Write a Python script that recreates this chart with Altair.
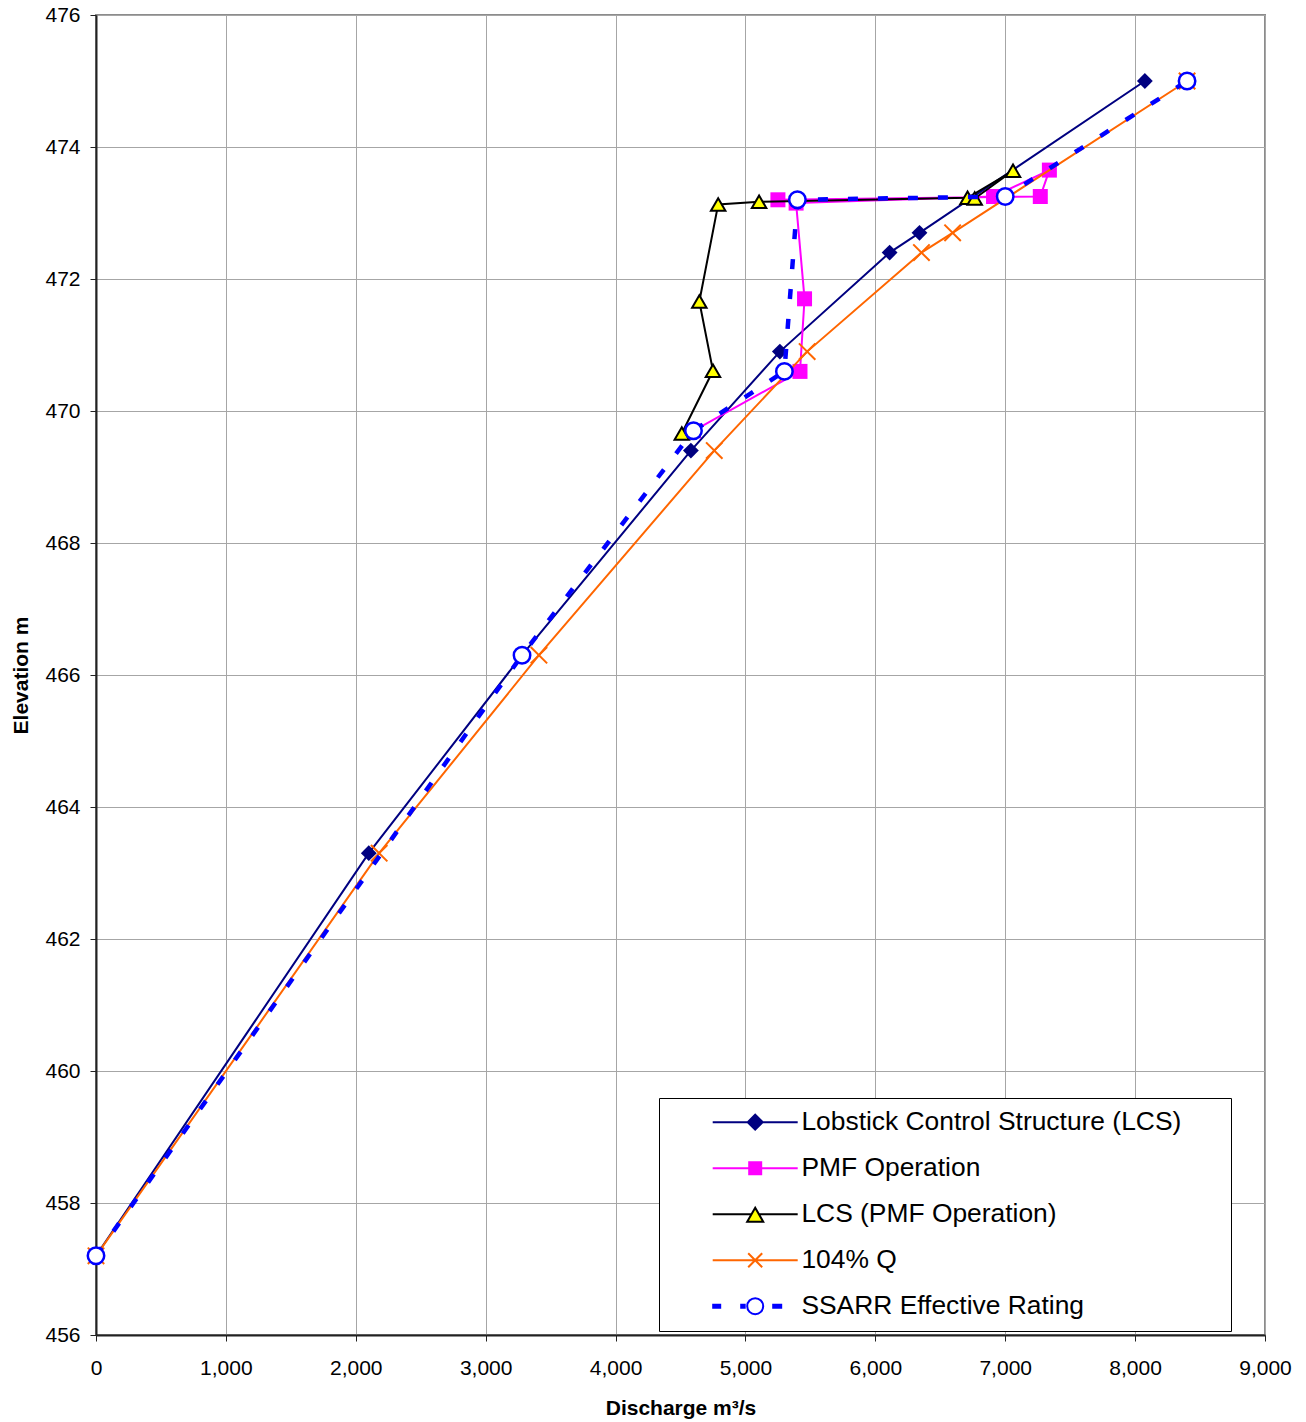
import altair as alt
import pandas as pd

# ---- data ----
series_names = [
    "Lobstick Control Structure (LCS)",
    "PMF Operation",
    "LCS (PMF Operation)",
    "104% Q",
    "SSARR Effective Rating",
]

lcs_q = [0, 2100, 3280, 4580, 5265, 6110, 6340, 8075]
lcs_el = [457.2, 463.3, 466.3, 469.4, 470.9, 472.4, 472.7, 475.0]

pmf_q = [4600, 5420, 5455, 5390, 6910, 7340, 7270, 5250]
pmf_el = [469.7, 470.6, 471.7, 473.15, 473.25, 473.65, 473.25, 473.2]

lcspmf_q = [4510, 4750, 4645, 4790, 5105, 6710, 7060, 6765]
lcspmf_el = [469.66, 470.61, 471.66, 473.13, 473.17, 473.23, 473.64, 473.22]

q104_q = [0, 2180, 3410, 4760, 5475, 6355, 6595, 8400]
q104_el = [457.2, 463.3, 466.3, 469.4, 470.9, 472.4, 472.7, 475.0]

ssarr_q = [0, 3280, 4600, 5300, 5400, 7000, 8400]
ssarr_el = [457.2, 466.3, 469.7, 470.6, 473.2, 473.25, 475.0]

x_ticks = list(range(0, 9001, 1000))
y_ticks = list(range(456, 477, 2))

FONT = "Liberation Sans"


def frame(q, el):
    return pd.DataFrame({"q": q, "el": el, "i": list(range(len(q)))})


X = alt.X(
    "q:Q",
    scale=alt.Scale(domain=[0, 9000], nice=False, zero=False),
    axis=alt.Axis(
        values=x_ticks, format=",.0f", title="Discharge m³/s",
        titleY=79, titleBaseline="alphabetic",
        labelPadding=16,
    ),
)
Y = alt.Y(
    "el:Q",
    scale=alt.Scale(domain=[456, 476], nice=False, zero=False),
    axis=alt.Axis(
        values=y_ticks, format=".0f", title="Elevation m", titleX=-75,
        titleBaseline="middle", titleAngle=-90, labelPadding=10,
    ),
)


def series_layers(df, line_kw, point_kw):
    base = alt.Chart(df)
    line = base.mark_line(**line_kw).encode(x=X, y=Y, order="i:Q")
    pts = base.mark_point(opacity=1, **point_kw).encode(x=X, y=Y)
    return [line, pts]


layers = []
layers += series_layers(
    frame(lcs_q, lcs_el),
    dict(color="#000080", strokeWidth=2),
    dict(shape="diamond", filled=True, color="#000080", size=250),
)
layers += series_layers(
    frame(pmf_q, pmf_el),
    dict(color="#FF00FF", strokeWidth=2),
    dict(shape="square", filled=True, color="#FF00FF", size=225),
)
layers += series_layers(
    frame(lcspmf_q, lcspmf_el),
    dict(color="#000000", strokeWidth=2),
    dict(shape="triangle-up", filled=True, fill="#FFFF00", stroke="#000000",
         strokeWidth=2, size=210),
)
layers += series_layers(
    frame(q104_q, q104_el),
    dict(color="#FF6600", strokeWidth=2),
    dict(shape="M-1,-1L1,1M-1,1L1,-1", filled=False, stroke="#FF6600",
         strokeWidth=2, size=270),
)
layers += series_layers(
    frame(ssarr_q, ssarr_el),
    dict(color="#0000FF", strokeWidth=4.5, strokeDash=[10, 20], strokeCap="butt"),
    dict(shape="circle", filled=True, fill="#FFFFFF", stroke="#0000FF",
         strokeWidth=2.5, size=270),
)

# ---- legend (line + marker symbols) ----
def dash(a, b):
    return "".join(f"M{a},{dy}H{b}" for dy in (-0.15, 0, 0.15))

legend_paths = [
    "M-4.25,0H4.25M0,-0.75L0.75,0L0,0.75L-0.75,0Z",
    "M-4.25,0H4.25M-0.6,-0.6H0.6V0.6H-0.6Z",
    "M-4.25,0H-0.35M0.35,0H4.25M0,-0.65L0.8,0.75H-0.8Z",
    "M-4.25,0H4.25M-0.7,-0.7L0.7,0.7M-0.7,0.7L0.7,-0.7",
    dash(-4.3, -3.4) + dash(-1.5, -0.95) + dash(1.7, 2.7)
    + "M0.8,0A0.8,0.8,0,1,1,-0.8,0A0.8,0.8,0,1,1,0.8,0Z",
]
legend_fills = ["#000080", "#FF00FF", "#FFFF00", "#FF6600", "#FFFFFF"]
legend_strokes = ["#000080", "#FF00FF", "#000000", "#FF6600", "#0000FF"]

pad = "\u2800" * 2  # invisible blank glyphs: widen the legend box on the right
legend = alt.Legend(
    title=None, orient="none", legendX=563, legendY=1083,
    labelFont=FONT, labelFontSize=26.4, labelColor="#000000", labelLimit=1000,
    symbolSize=400, symbolStrokeWidth=2, symbolOpacity=1,
    symbolOffset=72, labelOffset=33, rowPadding=19, padding=11,
    strokeColor="#000000", fillColor="#FFFFFF",
    labelExpr=f"datum.label + '{pad}'",
)

leg_df = pd.DataFrame({"series": series_names})
legend_layer = alt.Chart(leg_df).mark_point(opacity=1, strokeWidth=2, size=400, clip=True).encode(
    x=alt.value(-500),
    y=alt.value(-500),
    shape=alt.Shape("series:N", scale=alt.Scale(domain=series_names, range=legend_paths), legend=legend),
    fill=alt.Fill("series:N", scale=alt.Scale(domain=series_names, range=legend_fills), legend=legend),
    stroke=alt.Stroke("series:N", scale=alt.Scale(domain=series_names, range=legend_strokes), legend=legend),
)
layers.append(legend_layer)

chart = alt.layer(*layers).properties(
    width=1169, height=1320,
    padding={"left": 96, "top": 15, "right": 41, "bottom": 87},
    autosize="none",
    background="#FFFFFF",
).configure_view(
    stroke="#8c8c8c", strokeWidth=2,
).configure_axis(
    labelFont=FONT, labelFontSize=21, labelColor="#000000",
    titleFont=FONT, titleFontSize=21, titleFontWeight="bold", titleColor="#000000",
    grid=True, gridColor="#a6a6a6", gridWidth=1,
    domainColor="#222222", domainWidth=2,
    tickColor="#222222", tickSize=6, tickWidth=1,
    labelOverlap=False, labelFlush=False,
)

chart.save("out.html", embed_options={"renderer": "svg", "actions": False})
